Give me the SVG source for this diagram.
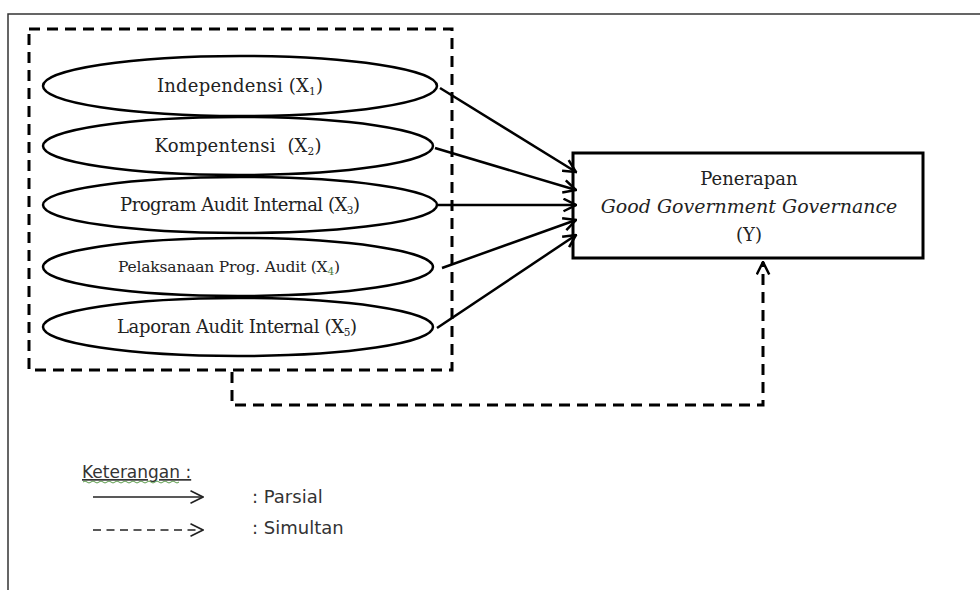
<svg xmlns="http://www.w3.org/2000/svg" width="980" height="590" viewBox="0 0 980 590">
<defs>
<style>
.frame{fill:none;stroke:#333;stroke-width:1.5}
.dbox{fill:none;stroke:#000;stroke-width:3;stroke-dasharray:11 7}
.ell{fill:#fff;stroke:#000;stroke-width:2.5}
.lbl{font-family:"DejaVu Serif","Liberation Serif",serif;font-size:18px;fill:#222;text-anchor:middle}
.sub{font-size:10.5px}
.box{fill:#fff;stroke:#000;stroke-width:3}
.btxt{font-family:"DejaVu Serif","Liberation Serif",serif;font-size:18px;fill:#222;text-anchor:middle}
.bit{font-family:"DejaVu Serif",serif;font-style:italic;font-size:19px;fill:#222;text-anchor:middle}
.con{fill:none;stroke:#000;stroke-width:2.5}
.dcon{fill:none;stroke:#000;stroke-width:3;stroke-dasharray:11 7}
.leg{font-family:"DejaVu Sans",Verdana,sans-serif;font-size:18px;fill:#333}
</style>
<marker id="ah" viewBox="0 0 12 12" refX="11" refY="6" markerWidth="15" markerHeight="15" markerUnits="userSpaceOnUse" orient="auto">
<path d="M1,1 L11,6 L1,11" fill="none" stroke="#000" stroke-width="2"/>
</marker>
<marker id="ahl" viewBox="0 0 12 12" refX="11" refY="6" markerWidth="15" markerHeight="15" markerUnits="userSpaceOnUse" orient="auto">
<path d="M1,1 L11,6 L1,11" fill="none" stroke="#222" stroke-width="1.3"/>
</marker>
</defs>
<rect width="980" height="590" fill="#fff"/>
<path class="frame" d="M8,590 V14 H980"/>
<rect class="dbox" x="29" y="29" width="423" height="341"/>

<g id="x1"><ellipse class="ell" cx="240" cy="86" rx="197" ry="30"/><text class="lbl" x="240" y="92" textLength="166">Independensi (X<tspan class="sub" dy="3">1</tspan><tspan dy="-3">)</tspan></text></g>
<g id="x2"><ellipse class="ell" cx="238" cy="146" rx="195" ry="29"/><text class="lbl" x="238" y="152" textLength="167" xml:space="preserve">Kompentensi  (X<tspan class="sub" dy="3">2</tspan><tspan dy="-3">)</tspan></text></g>
<g id="x3"><ellipse class="ell" cx="240" cy="205" rx="197" ry="28"/><text class="lbl" x="240" y="211" textLength="240">Program Audit Internal (X<tspan class="sub" dy="3">3</tspan><tspan dy="-3">)</tspan></text></g>
<g id="x4"><ellipse class="ell" cx="238" cy="267" rx="195" ry="29"/><text class="lbl" x="229" y="272" textLength="222" style="font-size:15.5px">Pelaksanaan Prog. Audit (X<tspan class="sub" dy="3" fill="#4a7a3a">4</tspan><tspan dy="-3">)</tspan></text></g>
<g id="x5"><ellipse class="ell" cx="238" cy="327" rx="195" ry="29"/><text class="lbl" x="237" y="333" textLength="240">Laporan Audit Internal (X<tspan class="sub" dy="3">5</tspan><tspan dy="-3">)</tspan></text></g>

<g id="y"><rect class="box" x="573" y="153" width="350" height="105"/>
<text class="btxt" x="749" y="185">Penerapan</text>
<text class="bit" x="749" y="213">Good Government Governance</text>
<text class="btxt" x="749" y="241">(Y)</text></g>

<g id="connectors">
<path class="con" d="M440,88 L576,172" marker-end="url(#ah)"/>
<path class="con" d="M435,148 L576,190" marker-end="url(#ah)"/>
<path class="con" d="M437,205 L576,205" marker-end="url(#ah)"/>
<path class="con" d="M442,268 L576,220" marker-end="url(#ah)"/>
<path class="con" d="M437,328 L576,235" marker-end="url(#ah)"/>
<path class="dcon" d="M232,372 V405 H763 V262" marker-end="url(#ah)"/>
</g>

<g id="legend">
<text class="leg" x="82" y="478" text-decoration="underline" style="font-size:17px">Keterangan :</text>
<path d="M83,482 q2,-2 4,0 t4,0 t4,0 t4,0 t4,0 t4,0 t4,0 t4,0 t4,0 t4,0 t4,0 t4,0 t4,0 t4,0 t4,0 t4,0 t4,0 t4,0 t4,0 t4,0 t4,0 t4,0 t4,0 t4,0" fill="none" stroke="#5a9a4a" stroke-width="1"/>
<path d="M93,497 H203" stroke="#222" stroke-width="1.6" fill="none" marker-end="url(#ahl)"/>
<path d="M93,530 H203" stroke="#222" stroke-width="1.6" stroke-dasharray="8 5.5" fill="none" marker-end="url(#ahl)"/>
<text class="leg" x="252" y="503">: Parsial</text>
<text class="leg" x="252" y="534">: Simultan</text>
</g>
</svg>
